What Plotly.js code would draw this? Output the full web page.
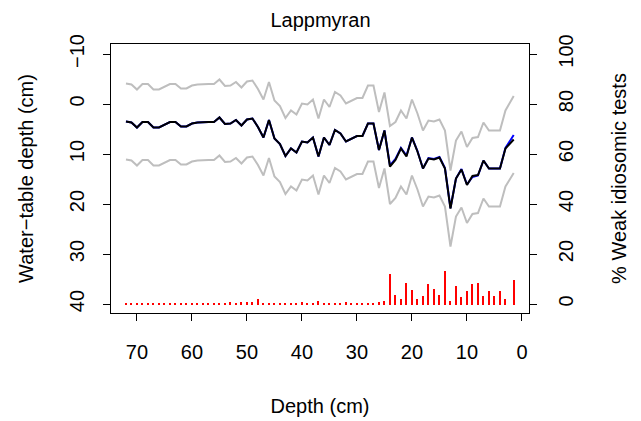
<!DOCTYPE html>
<html>
<head>
<meta charset="utf-8">
<script src="https://cdn.plot.ly/plotly-3.0.1.min.js"></script>
<style>html,body{margin:0;padding:0;background:#fff;}#chart{width:641px;height:421px;}</style>
</head>
<body>
<div id="chart"></div>
<script>
// Sample depths (cm)
const depth = [72,71,70,69,68,67,66,65,64,63,62,61,60,59,58,57,56,55,54,53,52,51,50,49,48,47,46,45,44,43,42,41,40,39,38,37,36,35,34,33,32,31,30,29,28,27,26,25,24,23,22,21,20,19,18,17,16,15,14,13,12,11,10,9,8,7,6,5,4,3,1.5];
// Reconstructed water-table depth (cm), black line
const wtdMean = [3.5,3.7,4.7,3.6,3.6,4.7,4.7,4.2,3.6,3.6,4.5,4.5,3.9,3.7,3.6,3.6,3.6,2.7,4.0,3.9,3.2,4.3,3.1,2.9,4.6,6.7,3.2,6.9,8.0,10.4,8.9,9.7,7.5,7.7,6.7,10.5,6.7,8.2,5.2,5.9,7.5,6.9,6.4,6.4,3.9,3.9,9.2,5.3,12.5,11.2,8.9,10.5,6.7,9.5,12.9,10.9,11.1,10.7,12.9,20.9,14.9,13.1,16.2,14.4,14.2,11.3,12.9,12.9,12.9,8.9,7.1];
// Alternative reconstruction, blue line
const wtdAlt = [3.5,3.7,4.7,3.6,3.6,4.7,4.7,4.2,3.6,3.6,4.5,4.5,3.9,3.7,3.6,3.6,3.6,2.7,4.0,3.9,3.2,4.3,3.1,2.9,4.6,6.7,3.2,6.9,8.0,10.4,8.9,9.7,7.5,7.7,6.7,10.5,6.7,8.2,5.2,5.9,7.5,6.9,6.4,6.4,3.9,3.9,9.2,5.3,12.3,11.0,8.8,10.3,6.7,9.4,12.9,10.8,11.0,10.6,12.8,20.8,14.9,13.0,16.1,14.6,14.3,11.3,12.9,12.9,12.9,8.8,6.2];
// Upper and lower error bounds, grey lines
const wtdUpper = [-4.1,-3.9,-2.9,-4.0,-4.0,-2.9,-2.9,-3.4,-4.0,-4.0,-3.1,-3.1,-3.7,-3.9,-4.0,-4.0,-4.0,-4.9,-3.6,-3.7,-4.4,-3.3,-4.5,-4.7,-3.0,-0.9,-4.4,-0.7,0.4,2.8,1.3,2.1,-0.1,0.1,-0.9,2.9,-0.9,0.6,-2.4,-1.7,-0.1,-0.7,-1.2,-1.2,-3.7,-3.7,1.6,-2.3,4.4,3.6,1.3,2.9,-0.9,1.9,5.3,3.3,3.5,3.1,5.3,13.3,7.3,5.5,8.6,6.8,6.6,3.7,5.3,5.3,5.3,1.3,-1.6];
const wtdLower = [11.1,11.3,12.3,11.2,11.2,12.3,12.3,11.8,11.2,11.2,12.1,12.1,11.5,11.3,11.2,11.2,11.2,10.3,11.6,11.5,10.8,11.9,10.7,10.5,12.2,14.3,10.8,14.5,15.6,18.0,16.5,17.3,15.1,15.3,14.3,18.1,14.3,15.8,12.8,13.5,15.1,14.5,14.0,14.0,11.5,11.5,16.8,12.9,20.0,18.8,16.5,18.1,14.3,17.1,20.5,18.5,18.7,18.3,20.5,28.5,22.5,20.7,23.8,22.0,21.8,18.9,20.5,20.5,20.5,16.5,13.8];
// % weak idiosomic tests, red bars
const weakPct = [0,0,0,0,0,0,0,0,0,0,0,0,0,0,0,0,0,0,0,0.5,0,0.5,0.5,0.5,1.5,0,0,0,0,0,0,0,0.5,0,0,0.7,0,0,0,0,0.5,0,0,0,0,0,0.5,1.0,11.7,3.2,1.6,8.0,5.2,1.5,3.0,7.6,5.7,3.3,12.8,0.9,7.0,2.4,4.7,7.6,8.1,2.8,4.8,3.0,4.9,1.5,9.3];

const leftTicks = [-10,0,10,20,30,40];
const rightTicks = [0,20,40,60,80,100];
const xTicks = [0,10,20,30,40,50,60,70];

const FONT = 'Liberation Sans, Arial, sans-serif';
const FS = 20;
const cap = 0.4; // round-cap look for the spikes
const grey = '#BEBEBE';

const traces = [
  {x: depth, y: weakPct.map(v => v + 2*cap), base: weakPct.map(() => -cap), type: 'bar', yaxis: 'y2',
   width: 0.36, marker: {color: '#FF0000', line: {width: 0}}, hoverinfo: 'skip'},
  {x: depth, y: wtdUpper, type: 'scatter', mode: 'lines', line: {color: grey, width: 2}},
  {x: depth, y: wtdLower, type: 'scatter', mode: 'lines', line: {color: grey, width: 2}},
  {x: depth, y: wtdAlt, type: 'scatter', mode: 'lines', line: {color: '#0000FF', width: 2}},
  {x: depth, y: wtdMean, type: 'scatter', mode: 'lines', line: {color: '#000000', width: 2}}
];

const layout = {
  width: 641, height: 421,
  margin: {l: 111, r: 112, t: 44, b: 108, pad: 0},
  paper_bgcolor: '#fff', plot_bgcolor: '#fff',
  showlegend: false,
  font: {family: FONT, size: FS, color: '#000'},
  title: {text: 'Lappmyran', font: {family: FONT, size: FS, color: '#000'}, x: 0.5, xanchor: 'center', y: 0.952, yanchor: 'middle'},
  bargap: 0,
  xaxis: {
    range: [74.72, -1.28], tickvals: xTicks, ticktext: xTicks.map(String),
    ticks: 'outside', ticklen: 7, tickwidth: 1, tickcolor: '#000',
    showline: true, mirror: true, linecolor: '#000', linewidth: 1,
    showgrid: false, zeroline: false, ticklabelstandoff: 14,
    title: {text: 'Depth (cm)', font: {family: FONT, size: FS}, standoff: 36}
  },
  yaxis: {
    range: [41.8, -12], tickvals: leftTicks, ticktext: leftTicks.map(v => v < 0 ? '\u2212' + Math.abs(v) : String(v)),
    ticks: 'outside', ticklen: 7, tickwidth: 1, tickcolor: '#000', tickangle: -90,
    showline: true, mirror: true, linecolor: '#000', linewidth: 1,
    showgrid: false, zeroline: false, ticklabelstandoff: 11,
    title: {text: 'Water\u2212table depth (cm)', font: {family: FONT, size: FS}, standoff: 27}
  },
  yaxis2: {
    overlaying: 'y', side: 'right', range: [-3.6, 104],
    tickvals: rightTicks, ticktext: rightTicks.map(String),
    ticks: 'outside', ticklen: 7, tickwidth: 1, tickcolor: '#000', tickangle: -90,
    showline: false, showgrid: false, zeroline: false, ticklabelstandoff: 12,
    title: {text: '% Weak idiosomic tests', font: {family: FONT, size: FS}, standoff: 35}
  }
};

Plotly.newPlot('chart', traces, layout, {displayModeBar: false, staticPlot: true});
</script>
</body>
</html>
